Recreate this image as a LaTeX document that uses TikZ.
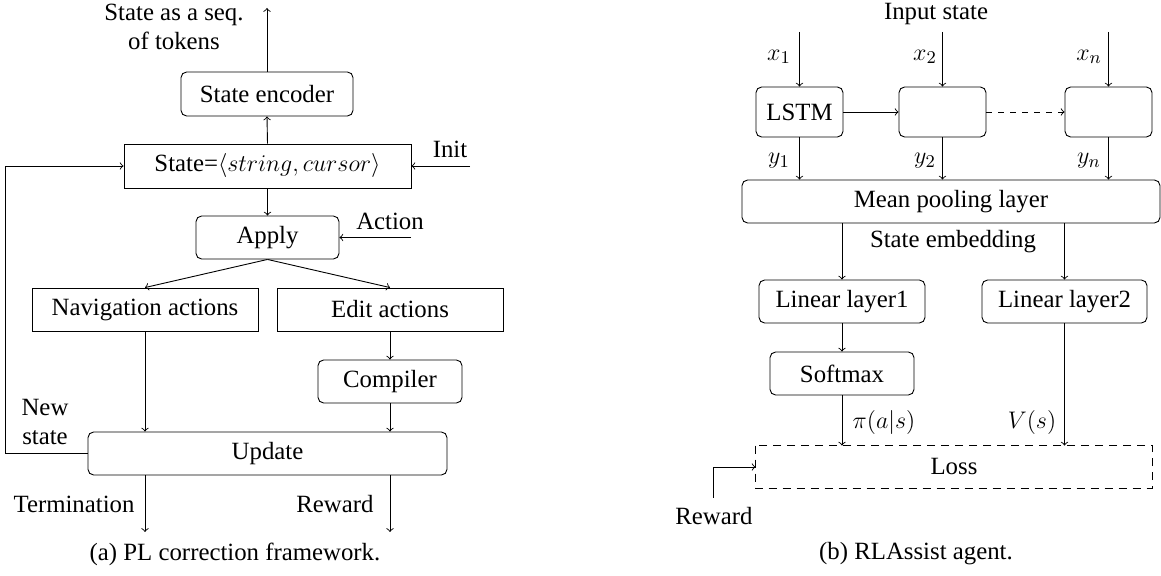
\documentclass[tikz,border=0pt]{standalone}
\usepackage{fontspec}
\setmainfont{Liberation Serif}
\usetikzlibrary{calc}
\begin{document}
\begin{tikzpicture}[x=0.5pt,y=-0.5pt,
  every node/.style={font=\fontsize{12.4}{14.5}\selectfont},
  line width=0.45pt,
  box/.style 2 args={draw, inner sep=0pt, minimum width=#1*0.5pt, minimum height=#2*0.5pt},
  rbox/.style 2 args={box={#1}{#2}, rounded corners=2.8pt},
  lbl/.style={inner sep=0pt},
  arr/.style={->}]
\useasboundingbox (0,0) rectangle (1161,576);
% ---------- (a) ----------
\node[rbox={172}{44}] (enc) at (267,94) {State encoder};
\node[box={287}{44}] (st) at (267.5,166) {State=$\langle string, cursor\rangle$};
\node[rbox={143}{43}] (app) at (267.5,237.5) {Apply};
\node[box={226}{43}] (nav) at (145,309.5) {Navigation actions};
\node[box={226}{43}] (edit) at (390,309.5) {Edit actions};
\node[rbox={144}{43}] (comp) at (390,381.5) {Compiler};
\node[rbox={359}{43}] (upd) at (267.5,453.5) {Update};
\node[lbl, align=center] (seq) at (174,27) {State as a seq.\\of tokens};
\node[lbl] (init) at (450,149) {Init};
\node[lbl] (act) at (390,221) {Action};
\node[lbl, align=center] (ns) at (45,422) {New\\state};
\node[lbl] (term) at (74,504) {Termination};
\node[lbl] (rew) at (335,504) {Reward};
\node[lbl] (capa) at (235,554) {(a) PL correction framework.};
\coordinate (top) at (267,8);
\coordinate (initS) at (470,166);
\coordinate (actS) at (411,237.5);
\coordinate (fb) at (5,453.5);
\coordinate (termE) at (145,532);
\coordinate (rewE) at (390,532);
\draw[arr] (enc.north) -- (top);
\draw[arr] (st.north) -- (enc.south);
\draw[arr] (initS) -- (st.east);
\draw[arr] (st.south) -- (app.north);
\draw[arr] (actS) -- (app.east);
\draw[arr] (app.south) -- (nav.north);
\draw[arr] (app.south) -- (edit.north);
\draw[arr] (edit.south) -- (comp.north);
\draw[arr] (nav.south) -- (nav.south |- upd.north);
\draw[arr] (comp.south) -- (comp.south |- upd.north);
\draw[arr] (upd.west) -- (fb) |- (st.west);
\draw[arr] (nav.south |- upd.south) -- (termE);
\draw[arr] (comp.south |- upd.south) -- (rewE);
% ---------- (b) ----------
\node[lbl] (inp) at (936,14) {Input state};
\node[rbox={87}{50}] (b1) at (799.5,112) {LSTM};
\node[rbox={87}{50}] (b2) at (942.5,112) {};
\node[rbox={87}{50}] (b3) at (1108.5,112) {};
\node[rbox={418}{43}] (mp) at (951,201.5) {Mean pooling layer};
\node[lbl] (se) at (953,242) {State embedding};
\node[rbox={166}{43}] (ll1) at (842,301.5) {Linear layer1};
\node[rbox={165}{43}] (ll2) at (1064.5,301.5) {Linear layer2};
\node[rbox={144}{43}] (sm) at (842,373.5) {Softmax};
\node[box={396}{42}, draw=none] (loss) at (954,467) {Loss};
\draw[dash pattern=on 4pt off 3pt] (loss.north west) rectangle (loss.south east);
\node[lbl] (x1) at (779,57) {$x_1$};
\node[lbl] (x2) at (925,57) {$x_2$};
\node[lbl] (xn) at (1089,57) {$x_n$};
\node[lbl] (y1) at (779,161) {$y_1$};
\node[lbl] (y2) at (925,161) {$y_2$};
\node[lbl] (yn) at (1089,161) {$y_n$};
\node[lbl] (pi) at (884,423) {$\pi(a|s)$};
\node[lbl] (vs) at (1032,423) {$V(s)$};
\node[lbl] (rw) at (714,516) {Reward};
\node[lbl] (capb) at (916,554) {(b) RLAssist agent.};
\coordinate (i1) at (799.5,32);
\coordinate (i2) at (942.5,32);
\coordinate (i3) at (1108.5,32);
\coordinate (rwS) at (713,498);
\draw[arr] (i1) -- (b1.north);
\draw[arr] (i2) -- (b2.north);
\draw[arr] (i3) -- (b3.north);
\draw[arr] (b1.east) -- (b2.west);
\draw[arr, dashed] (b2.east) -- (b3.west);
\draw[arr] (b1.south) -- (b1.south |- mp.north);
\draw[arr] (b2.south) -- (b2.south |- mp.north);
\draw[arr] (b3.south) -- (b3.south |- mp.north);
\draw[arr] (ll1.north |- mp.south) -- (ll1.north);
\draw[arr] (ll2.north |- mp.south) -- (ll2.north);
\draw[arr] (ll1.south) -- (sm.north);
\draw[arr] (sm.south) -- (sm.south |- loss.north);
\draw[arr] (ll2.south) -- (ll2.south |- loss.north);
\draw[arr] (rwS) |- (loss.west);
\end{tikzpicture}
\end{document}
